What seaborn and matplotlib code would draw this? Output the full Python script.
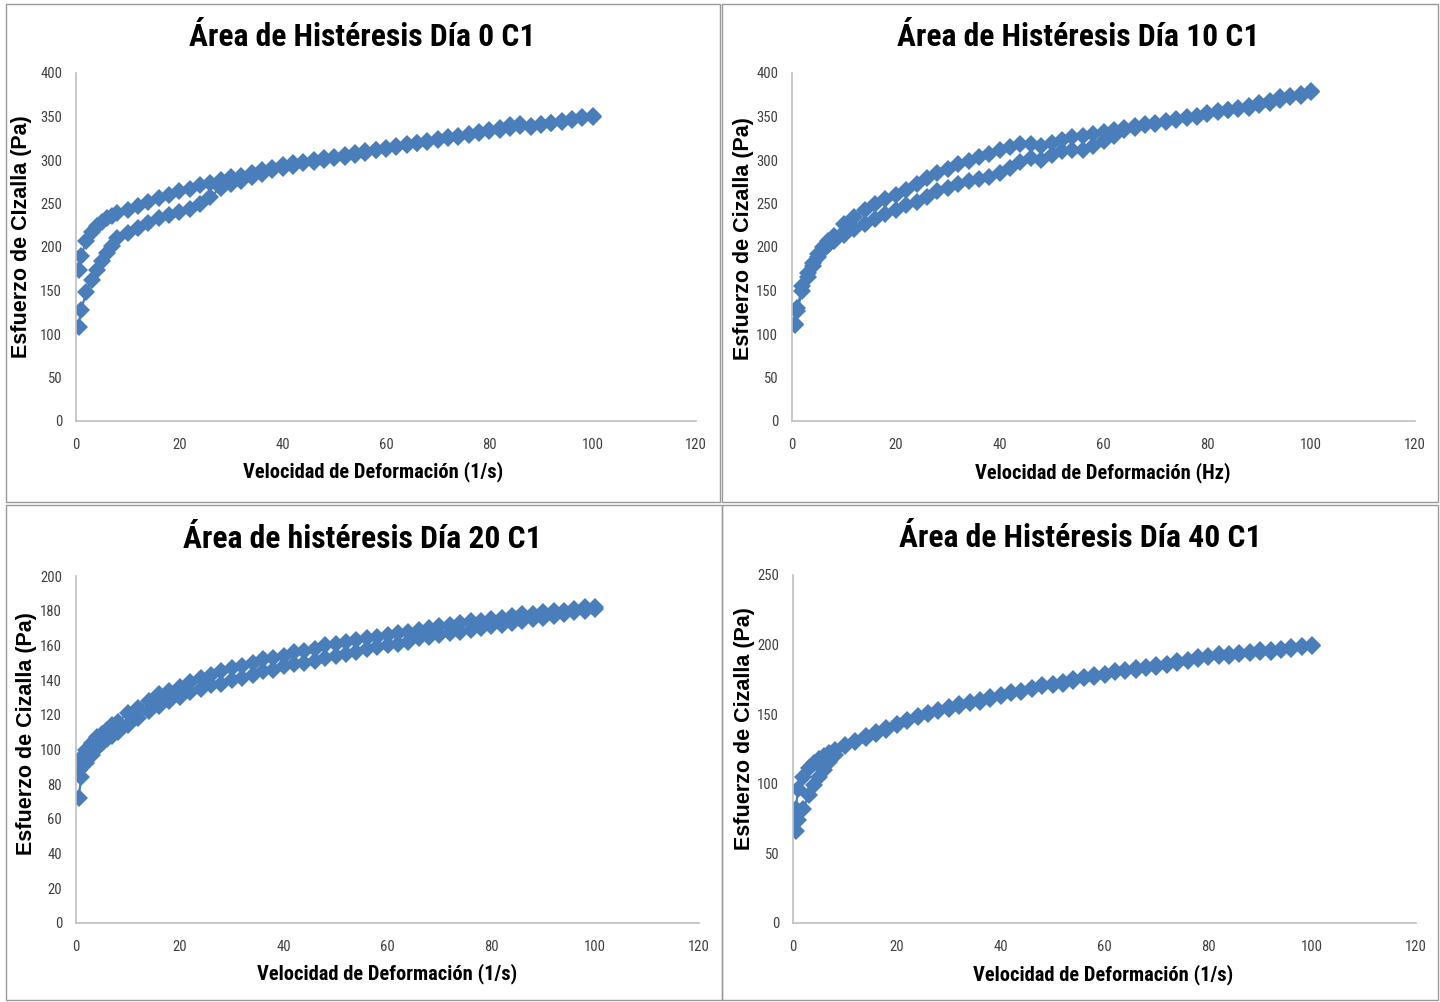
import matplotlib
matplotlib.use("Agg")
import matplotlib.pyplot as plt
from matplotlib.patches import Rectangle
from matplotlib import font_manager
import seaborn as sns
import pandas as pd

# ---------------- data ----------------
shear_rate = [0.5, 1, 2, 3, 4, 5, 6, 7, 8, 10, 12, 14, 16, 18, 20, 22, 24, 26, 28, 30,
              32, 34, 36, 38, 40, 42, 44, 46, 48, 50, 52, 54, 56, 58, 60, 62, 64, 66, 68, 70,
              72, 74, 76, 78, 80, 82, 84, 86, 88, 90, 92, 94, 96, 98, 100]

d0_up = [108, 128, 148, 162, 173, 184, 193, 201, 210, 216, 222, 228, 233, 237, 240, 244, 249, 258, 268, 272,
         276, 280, 284, 288, 291, 293, 296, 298, 300, 302, 304, 306, 308, 311, 313, 315, 317, 319, 321, 323,
         325, 327, 329, 331, 333, 335, 337, 339, 338, 340, 342, 344, 346, 348, 350]
d0_down = [173, 190, 207, 217, 224, 229, 233, 236, 239, 243, 247, 252, 256, 260, 264, 267, 271, 274, 277, 280,
           282, 285, 288, 291, 294, 296, 298, 300, 302, 304, 306, 308, 310, 312, 314, 316, 318, 320, 322, 324,
           326, 328, 330, 332, 334, 337, 340, 341, 339, 341, 343, 345, 347, 349, 351]

d10_up = [110, 127, 150, 166, 178, 188, 196, 202, 207, 214, 221, 227, 232, 238, 243, 248, 252, 258, 264, 268,
          272, 276, 278, 281, 285, 291, 298, 302, 300, 306, 310, 312, 312, 316, 322, 328, 334, 337, 340, 341,
          344, 346, 348, 350, 353, 355, 357, 359, 360, 363, 366, 369, 372, 374, 378]
d10_down = [112, 130, 155, 170, 182, 192, 200, 207, 213, 226, 235, 243, 250, 255, 260, 266, 272, 279, 285, 290,
            295, 299, 303, 307, 311, 315, 318, 318, 316, 320, 323, 326, 328, 330, 332, 334, 337, 339, 341, 343,
            345, 347, 349, 351, 354, 356, 358, 360, 362, 366, 368, 372, 374, 376, 379]

d20_up = [72, 84, 92, 97, 101, 104, 106, 108, 110, 114, 118, 122, 125, 128, 130, 133, 135, 137, 138, 140,
          141, 143, 145, 146, 148, 149, 150, 151, 153, 154, 155, 156, 158, 159, 160, 161, 162, 164, 165, 166,
          167, 168, 169, 170, 171, 172, 173, 174, 175, 176, 177, 178, 179, 180, 181]
d20_down = [88, 95, 100, 104, 107, 109, 111, 114, 116, 121, 124, 128, 132, 134, 136, 139, 141, 143, 145, 147,
            148, 150, 152, 153, 154, 156, 157, 158, 160, 161, 162, 163, 164, 165, 166, 167, 168, 169, 170, 171,
            172, 173, 174, 174, 175, 176, 177, 178, 178, 179, 180, 180, 181, 182, 182]

d40_up = [66, 74, 82, 92, 99, 105, 110, 116, 121, 127, 130, 133, 136, 139, 142, 145, 148, 150, 152, 154,
          156, 158, 159, 161, 163, 165, 166, 168, 170, 171, 172, 174, 176, 177, 178, 180, 181, 182, 183, 184,
          185, 187, 188, 190, 191, 192, 192, 193, 194, 195, 195, 196, 197, 198, 199]
d40_down = [82, 96, 105, 111, 115, 118, 120, 122, 124, 128, 131, 134, 137, 140, 143, 146, 149, 151, 153, 155,
            157, 159, 160, 162, 164, 166, 167, 169, 171, 172, 173, 175, 177, 178, 179, 181, 182, 183, 184, 185,
            186, 188, 189, 191, 192, 193, 193, 194, 195, 196, 196, 197, 198, 199, 200]

titles = ["Área de Histéresis Día 0 C1", "Área de Histéresis Día 10 C1",
          "Área de histéresis Día 20 C1", "Área de Histéresis Día 40 C1"]
xlabels = ["Velocidad de Deformación (1/s)", "Velocidad de Deformación (Hz)",
           "Velocidad de Deformación (1/s)", "Velocidad de Deformación (1/s)"]
ylabels = ["Esfuerzo de CIzalla (Pa)", "Esfuerzo de Cizalla (Pa)",
           "Esfuerzo de Cizalla (Pa)", "Esfuerzo de Cizalla (Pa)"]
x_ticks = [0, 20, 40, 60, 80, 100, 120]
y_ticks = [[0, 50, 100, 150, 200, 250, 300, 350, 400],
           [0, 50, 100, 150, 200, 250, 300, 350, 400],
           [0, 20, 40, 60, 80, 100, 120, 140, 160, 180, 200],
           [0, 50, 100, 150, 200, 250]]
series = [(d0_up, d0_down), (d10_up, d10_down), (d20_up, d20_down), (d40_up, d40_down)]

# ---------------- style ----------------
sns.set_theme(style="white")
fl = font_manager.fontManager.ttflist
def has(name, weight):
    return any(f.name == name and f.weight == weight and f.style == "normal" for f in fl)

narrow = "DejaVu Sans"
for cand in ["Liberation Sans Narrow", "Roboto Condensed", "IBM Plex Sans Condensed", "Fira Sans Condensed"]:
    if has(cand, 700) and has(cand, 400):
        narrow = cand
        break
wide = "Liberation Sans" if any(f.name == "Liberation Sans" for f in fl) else "DejaVu Sans"
plt.rcParams["font.family"] = [narrow, "DejaVu Sans"]

W, H = 1440, 1002
fig = plt.figure(figsize=(W / 100, H / 100), dpi=100)
fig.patch.set_facecolor("white")

BLUE = "#4A7EBB"

frames = [(6, 4, 720, 502), (722, 4, 1438, 502), (6, 505, 722, 1000), (722, 505, 1438, 1000)]
boxes = [(76, 73, 696, 421), (792, 73, 1415, 421), (76, 576, 699, 923), (793, 575, 1416, 923)]
title_pos = [(362, 37), (1078, 37), (362, 539), (1080, 538)]
xlab_pos = [(373, 472), (1103, 473), (387, 974), (1103, 975)]
ylab_pos = [(22, 237), (743, 239), (27, 734), (744, 729)]

for k in range(4):
    fx0, fy0, fx1, fy1 = frames[k]
    fig.add_artist(Rectangle((fx0 / W, 1 - fy1 / H), (fx1 - fx0) / W, (fy1 - fy0) / H,
                             transform=fig.transFigure, fill=False, edgecolor="#9a9a9a", lw=1.0))
    l, t, r, b = boxes[k]
    ax = fig.add_axes([l / W, 1 - b / H, (r - l) / W, (b - t) / H])
    up, down = series[k]
    df_up = pd.DataFrame({"x": shear_rate, "y": up})
    df_dn = pd.DataFrame({"x": shear_rate, "y": down})
    for df in (df_up, df_dn):
        sns.lineplot(data=df, x="x", y="y", ax=ax, color=BLUE, lw=1.6, sort=False,
                     estimator=None, marker="D", markersize=9, markeredgewidth=0,
                     markerfacecolor=BLUE)
    ax.set_xlim(0, 120)
    ax.set_ylim(y_ticks[k][0], y_ticks[k][-1])
    ax.set_xticks(x_ticks)
    ax.set_yticks(y_ticks[k])
    ax.set_xlabel("")
    ax.set_ylabel("")
    for s in ("top", "right"):
        ax.spines[s].set_visible(False)
    for s in ("left", "bottom"):
        ax.spines[s].set_color("#bfbfbf")
        ax.spines[s].set_linewidth(1.2)
    ax.tick_params(axis="both", length=0, labelsize=10.5, labelcolor="#404040")
    ax.tick_params(axis="y", pad=10)
    ax.tick_params(axis="x", pad=12)
    for lab in ax.get_xticklabels() + ax.get_yticklabels():
        lab.set_family([narrow, "DejaVu Sans"])
    ax.set_facecolor("white")

    tx, ty = title_pos[k]
    fig.text(tx / W, 1 - ty / H, titles[k], ha="center", va="center", fontsize=22.8,
             fontweight="bold", family=[narrow, "DejaVu Sans"], color="black")
    xx, xy = xlab_pos[k]
    fig.text(xx / W, 1 - xy / H, xlabels[k], ha="center", va="center", fontsize=14.8,
             fontweight="bold", family=[narrow, "DejaVu Sans"], color="black")
    yx, yy = ylab_pos[k]
    fig.text(yx / W, 1 - yy / H, ylabels[k], ha="center", va="center", fontsize=15.5,
             fontweight="bold", rotation=90, family=[wide, "DejaVu Sans"], color="black")

fig.savefig("out.png", dpi=100, facecolor="white")
